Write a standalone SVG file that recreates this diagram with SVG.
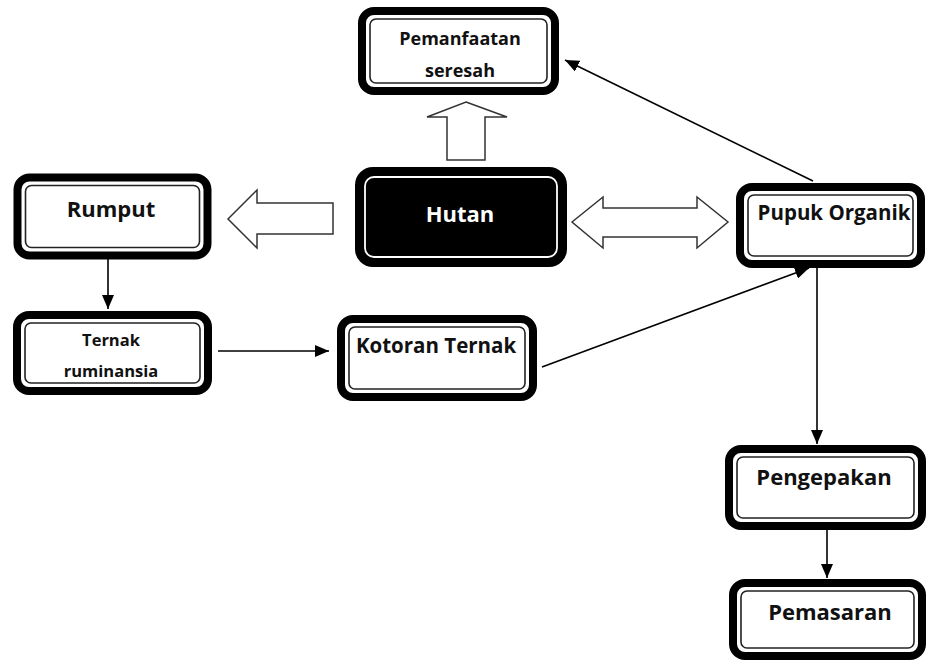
<svg xmlns="http://www.w3.org/2000/svg" width="927" height="661" viewBox="0 0 927 661">
<style>
.outer{fill:#fff;stroke:#000;stroke-width:8}
.inner{fill:none;stroke:#222;stroke-width:1.6}
.dark{fill:#000;stroke:#000;stroke-width:8}
.dinner{fill:none;stroke:#fff;stroke-width:1.8}
.t{font-family:"Open Sans","Liberation Sans",sans-serif;font-weight:bold;fill:#111;text-anchor:middle}
.tw{fill:#fff}
.block{fill:#fff;stroke:#333;stroke-width:1.5;stroke-linejoin:miter}
.ln{stroke:#000;stroke-width:1.6;fill:none}
</style>
<defs>
<marker id="ah" markerUnits="userSpaceOnUse" markerWidth="14" markerHeight="12" refX="14" refY="6" orient="auto">
<path d="M0,0 L14,6 L0,12 z" fill="#000"/>
</marker>
</defs>
<rect width="927" height="661" fill="#fff"/>

<g id="connectors">
<polygon class="block" points="466,102 507,117 485,117 485,160 447,160 447,117 427,117"/>
<polygon class="block" points="228,219 257,190 257,203 333,203 333,234 257,234 257,248"/>
<polygon class="block" points="572,222 603,197 603,208 697,208 697,197 728,222 697,248 697,237 603,237 603,248"/>
<line class="ln" x1="813" y1="181" x2="565" y2="60" marker-end="url(#ah)"/>
<line class="ln" x1="108" y1="258" x2="108" y2="309" marker-end="url(#ah)"/>
<line class="ln" x1="218" y1="351" x2="329" y2="351" marker-end="url(#ah)"/>
<line class="ln" x1="542" y1="367" x2="809" y2="268" marker-end="url(#ah)"/>
<line class="ln" x1="817" y1="268" x2="817" y2="444" marker-end="url(#ah)"/>
<line class="ln" x1="827" y1="530" x2="827" y2="578" marker-end="url(#ah)"/>
</g>

<g id="pemanfaatan">
<rect class="outer" x="362" y="11" width="193" height="80" rx="12"/>
<rect class="inner" x="370" y="19" width="177" height="64" rx="6"/>
<text class="t" x="460" y="45" font-size="18">Pemanfaatan</text>
<text class="t" x="460" y="77" font-size="18">seresah</text>
</g>

<g id="hutan">
<rect class="dark" x="359" y="171" width="204" height="92" rx="14"/>
<rect class="dinner" x="365" y="177" width="192" height="80" rx="9"/>
<text class="t tw" x="460" y="222" font-size="22">Hutan</text>
</g>

<g id="rumput">
<rect class="outer" x="17.5" y="177.5" width="190" height="78" rx="12"/>
<rect class="inner" x="25.5" y="185.5" width="174" height="62" rx="6"/>
<text class="t" x="111" y="217" font-size="22">Rumput</text>
</g>

<g id="pupuk">
<rect class="outer" x="740" y="187" width="181" height="77" rx="12"/>
<rect class="inner" x="748" y="195" width="165" height="61" rx="6"/>
<text class="t" x="834" y="220" font-size="20.5">Pupuk Organik</text>
</g>

<g id="ternak">
<rect class="outer" x="17" y="315" width="191" height="76" rx="12"/>
<rect class="inner" x="25" y="323" width="175" height="60" rx="6"/>
<text class="t" x="111" y="346" font-size="16.5">Ternak</text>
<text class="t" x="111" y="377" font-size="16.5">ruminansia</text>
</g>

<g id="kotoran">
<rect class="outer" x="341" y="319" width="192" height="78" rx="12"/>
<rect class="inner" x="349" y="327" width="176" height="62" rx="6"/>
<text class="t" x="436" y="353" font-size="20.5">Kotoran Ternak</text>
</g>

<g id="pengepakan">
<rect class="outer" x="729" y="449" width="193" height="77" rx="12"/>
<rect class="inner" x="737" y="457" width="177" height="61" rx="6"/>
<text class="t" x="824" y="485" font-size="22">Pengepakan</text>
</g>

<g id="pemasaran">
<rect class="outer" x="733" y="583" width="189" height="73" rx="12"/>
<rect class="inner" x="741" y="591" width="173" height="57" rx="6"/>
<text class="t" x="830" y="620" font-size="22">Pemasaran</text>
</g>
</svg>
